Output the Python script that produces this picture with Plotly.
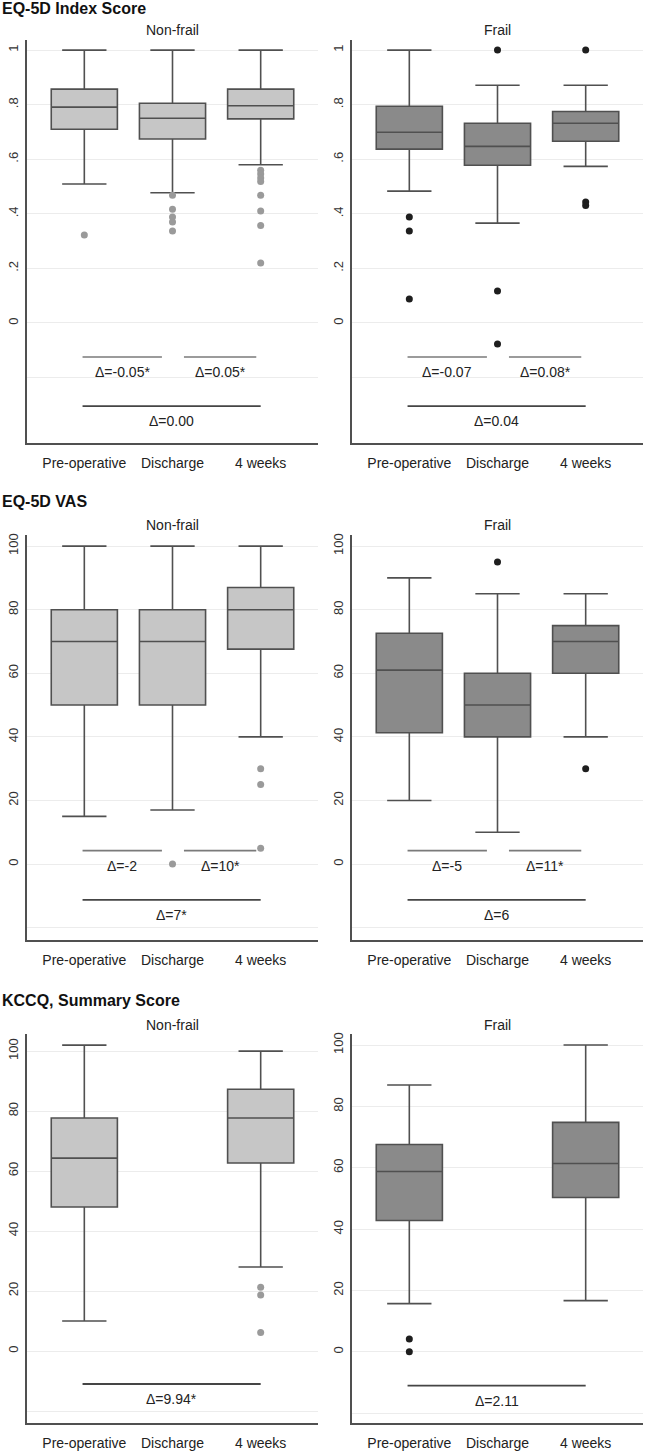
import plotly.graph_objects as go

# ---------------- data ----------------
timepoints = ["Pre-operative", "Discharge", "4 weeks"]
x_pos = [1, 2, 3]

# EQ-5D Index Score - Non-frail
eqi_nf_low = [0.509, 0.477, 0.580]
eqi_nf_q1 = [0.710, 0.674, 0.748]
eqi_nf_med = [0.791, 0.750, 0.796]
eqi_nf_q3 = [0.857, 0.805, 0.857]
eqi_nf_high = [1.0, 1.0, 1.0]
eqi_nf_out = [[0.322], [0.468, 0.417, 0.388, 0.370, 0.337],
              [0.560, 0.546, 0.531, 0.518, 0.468, 0.410, 0.357, 0.220]]
eqi_nf_delta = ["Δ=-0.05*", "Δ=0.05*", "Δ=0.00"]

# EQ-5D Index Score - Frail
eqi_f_low = [0.483, 0.366, 0.574]
eqi_f_q1 = [0.637, 0.578, 0.666]
eqi_f_med = [0.699, 0.647, 0.732]
eqi_f_q3 = [0.794, 0.732, 0.775]
eqi_f_high = [1.0, 0.871, 0.871]
eqi_f_out = [[0.388, 0.337, 0.088], [1.0, 0.117, -0.077], [1.0, 0.443, 0.430]]
eqi_f_delta = ["Δ=-0.07", "Δ=0.08*", "Δ=0.04"]

# EQ-5D VAS - Non-frail
vas_nf_low = [15, 17, 40]
vas_nf_q1 = [50, 50, 67.6]
vas_nf_med = [70, 70, 80]
vas_nf_q3 = [80, 80, 87]
vas_nf_high = [100, 100, 100]
vas_nf_out = [[], [0], [30, 25, 5]]
vas_nf_delta = ["Δ=-2", "Δ=10*", "Δ=7*"]

# EQ-5D VAS - Frail
vas_f_low = [20, 10, 40]
vas_f_q1 = [41.3, 40, 60]
vas_f_med = [61, 50, 70]
vas_f_q3 = [72.6, 60, 75]
vas_f_high = [90, 85, 85]
vas_f_out = [[], [95], [30]]
vas_f_delta = ["Δ=-5", "Δ=11*", "Δ=6"]

# KCCQ Summary Score (no discharge measurement)
kccq_x = [1, 3]
kccq_nf_low = [10, 28]
kccq_nf_q1 = [48, 62.7]
kccq_nf_med = [64.3, 77.7]
kccq_nf_q3 = [77.7, 87.3]
kccq_nf_high = [102, 100]
kccq_nf_out = [[], [21.3, 18.7, 6.2]]
kccq_nf_delta = ["Δ=9.94*"]

kccq_f_low = [15.7, 16.7]
kccq_f_q1 = [42.8, 50.3]
kccq_f_med = [58.8, 61.4]
kccq_f_q3 = [67.6, 74.8]
kccq_f_high = [87, 100]
kccq_f_out = [[4.2, 0.0], []]
kccq_f_delta = ["Δ=2.11"]

comparisons3 = [(1, 2), (2, 3), (1, 3)]
comparisons1 = [(1, 3)]

# ---------------- style ----------------
W, H = 645, 1453
FONT = "Liberation Sans, Arial, sans-serif"
NF_FILL, F_FILL = "#c6c6c6", "#8a8a8a"
NF_OUT, F_OUT = "#9a9a9a", "#1e1e1e"
LINE = "#505050"

def px_x(p):
    return p / W

def px_y(p):
    return 1 - p / H

rows = [
    dict(top=40, bottom=443, title="EQ-5D Index Score", title_y=8, sub_y=30),
    dict(top=535, bottom=940, title="EQ-5D VAS", title_y=501, sub_y=525),
    dict(top=1034, bottom=1423, title="KCCQ, Summary Score", title_y=1000, sub_y=1025),
]
cols = [dict(left=27, right=318, name="Non-frail"), dict(left=352, right=643, name="Frail")]

yranges = [[-0.44, 1.037], [-0.44, 1.037],
           [-23.9, 103.5], [-23.9, 103.5],
           [-24.0, 105.7], [-23.2, 103.6]]

eq_ticks = [-0.2, 0, 0.2, 0.4, 0.6, 0.8, 1.0]
eq_text = ["", "0", ".2", ".4", ".6", ".8", "1"]
hund_ticks = [-20, 0, 20, 40, 60, 80, 100]
hund_text = ["", "0", "20", "40", "60", "80", "100"]

panels = [
    dict(x=x_pos, low=eqi_nf_low, q1=eqi_nf_q1, med=eqi_nf_med, q3=eqi_nf_q3, high=eqi_nf_high,
         out=eqi_nf_out, delta=eqi_nf_delta, comps=comparisons3, fill=NF_FILL, oc=NF_OUT,
         ty=(-0.125, -0.305), ticks=(eq_ticks, eq_text)),
    dict(x=x_pos, low=eqi_f_low, q1=eqi_f_q1, med=eqi_f_med, q3=eqi_f_q3, high=eqi_f_high,
         out=eqi_f_out, delta=eqi_f_delta, comps=comparisons3, fill=F_FILL, oc=F_OUT,
         ty=(-0.125, -0.305), ticks=(eq_ticks, eq_text)),
    dict(x=x_pos, low=vas_nf_low, q1=vas_nf_q1, med=vas_nf_med, q3=vas_nf_q3, high=vas_nf_high,
         out=vas_nf_out, delta=vas_nf_delta, comps=comparisons3, fill=NF_FILL, oc=NF_OUT,
         ty=(4.2, -11.3), ticks=(hund_ticks, hund_text)),
    dict(x=x_pos, low=vas_f_low, q1=vas_f_q1, med=vas_f_med, q3=vas_f_q3, high=vas_f_high,
         out=vas_f_out, delta=vas_f_delta, comps=comparisons3, fill=F_FILL, oc=F_OUT,
         ty=(4.2, -11.3), ticks=(hund_ticks, hund_text)),
    dict(x=kccq_x, low=kccq_nf_low, q1=kccq_nf_q1, med=kccq_nf_med, q3=kccq_nf_q3, high=kccq_nf_high,
         out=kccq_nf_out, delta=kccq_nf_delta, comps=comparisons1, fill=NF_FILL, oc=NF_OUT,
         ty=(None, -11.0), ticks=(hund_ticks, hund_text)),
    dict(x=kccq_x, low=kccq_f_low, q1=kccq_f_q1, med=kccq_f_med, q3=kccq_f_q3, high=kccq_f_high,
         out=kccq_f_out, delta=kccq_f_delta, comps=comparisons1, fill=F_FILL, oc=F_OUT,
         ty=(None, -11.0), ticks=(hund_ticks, hund_text)),
]

# offsets of the comparison bars relative to the box centres
bar_offsets = {(1, 2): (-0.02, -0.12), (2, 3): (0.13, -0.05), (1, 3): (-0.02, 0.0)}

fig = go.Figure()
annotations = []
layout_axes = {}

for i, p in enumerate(panels):
    r, c = divmod(i, 2)
    row, col = rows[r], cols[c]
    n = i + 1
    xa = "x" if n == 1 else f"x{n}"
    ya = "y" if n == 1 else f"y{n}"

    fig.add_trace(go.Box(
        x=p["x"], q1=p["q1"], median=p["med"], q3=p["q3"],
        lowerfence=p["low"], upperfence=p["high"],
        width=0.75, whiskerwidth=0.67, fillcolor=p["fill"],
        line=dict(color=LINE, width=1.6), boxpoints=False,
        xaxis=xa, yaxis=ya, showlegend=False, hoverinfo="skip"))

    ox, oy = [], []
    for xv, vals in zip(p["x"], p["out"]):
        ox += [xv] * len(vals)
        oy += vals
    if ox:
        fig.add_trace(go.Scatter(x=ox, y=oy, mode="markers",
                                 marker=dict(color=p["oc"], size=7),
                                 xaxis=xa, yaxis=ya, showlegend=False, hoverinfo="skip"))

    for comp, lab in zip(p["comps"], p["delta"]):
        a, b = comp
        da, db = bar_offsets[comp]
        x0, x1 = a + da, b + db
        long_bar = (b - a) == 2
        yv = p["ty"][1] if long_bar else p["ty"][0]
        fig.add_trace(go.Scatter(x=[x0, x1], y=[yv, yv], mode="lines",
                                 line=dict(color="#454545" if long_bar else "#7a7a7a",
                                           width=1.8 if long_bar else 1.6),
                                 xaxis=xa, yaxis=ya, showlegend=False, hoverinfo="skip"))
        annotations.append(dict(x=(x0 + x1) / 2, y=yv, xref=xa, yref=ya, text=lab,
                                showarrow=False, yanchor="top", xanchor="center", yshift=-5,
                                font=dict(family=FONT, size=14, color="#222")))

    tv, tt = p["ticks"]
    key_x = "xaxis" if n == 1 else f"xaxis{n}"
    key_y = "yaxis" if n == 1 else f"yaxis{n}"
    layout_axes[key_x] = dict(
        domain=[px_x(col["left"]), px_x(col["right"])], anchor=ya,
        range=[0.35, 3.65], tickvals=x_pos, ticktext=timepoints,
        showgrid=False, zeroline=False, showline=True, linecolor=LINE, linewidth=1.5,
        ticks="", ticklabelstandoff=6, automargin=False,
        tickfont=dict(family=FONT, size=14, color="#222"), fixedrange=True)
    layout_axes[key_y] = dict(
        domain=[px_y(row["bottom"]), px_y(row["top"])], anchor=xa,
        range=yranges[i], tickvals=tv, ticktext=tt, tickangle=-90,
        showgrid=True, gridcolor="#ececec", gridwidth=1, zeroline=False,
        showline=True, linecolor=LINE, linewidth=1.5, ticks="", ticklabelstandoff=2,
        automargin=False,
        tickfont=dict(family=FONT, size=13, color="#333"), fixedrange=True)

    # panel subtitle
    annotations.append(dict(x=px_x((col["left"] + col["right"]) / 2), y=px_y(row["sub_y"]),
                            xref="paper", yref="paper", text=col["name"], showarrow=False,
                            xanchor="center", yanchor="middle",
                            font=dict(family=FONT, size=14, color="#222")))

for row in rows:
    annotations.append(dict(x=0, y=px_y(row["title_y"]), xref="paper", yref="paper",
                            text=f"<b>{row['title']}</b>", showarrow=False,
                            xanchor="left", yanchor="middle",
                            font=dict(family=FONT, size=16, color="#111")))

fig.update_layout(width=W, height=H, margin=dict(l=0, r=0, t=0, b=0),
                  paper_bgcolor="white", plot_bgcolor="white",
                  annotations=annotations, showlegend=False, **layout_axes)

fig.write_html("out.html", config={"displayModeBar": False},
               post_script="document.body.style.margin='0px';document.body.style.padding='0px';")
